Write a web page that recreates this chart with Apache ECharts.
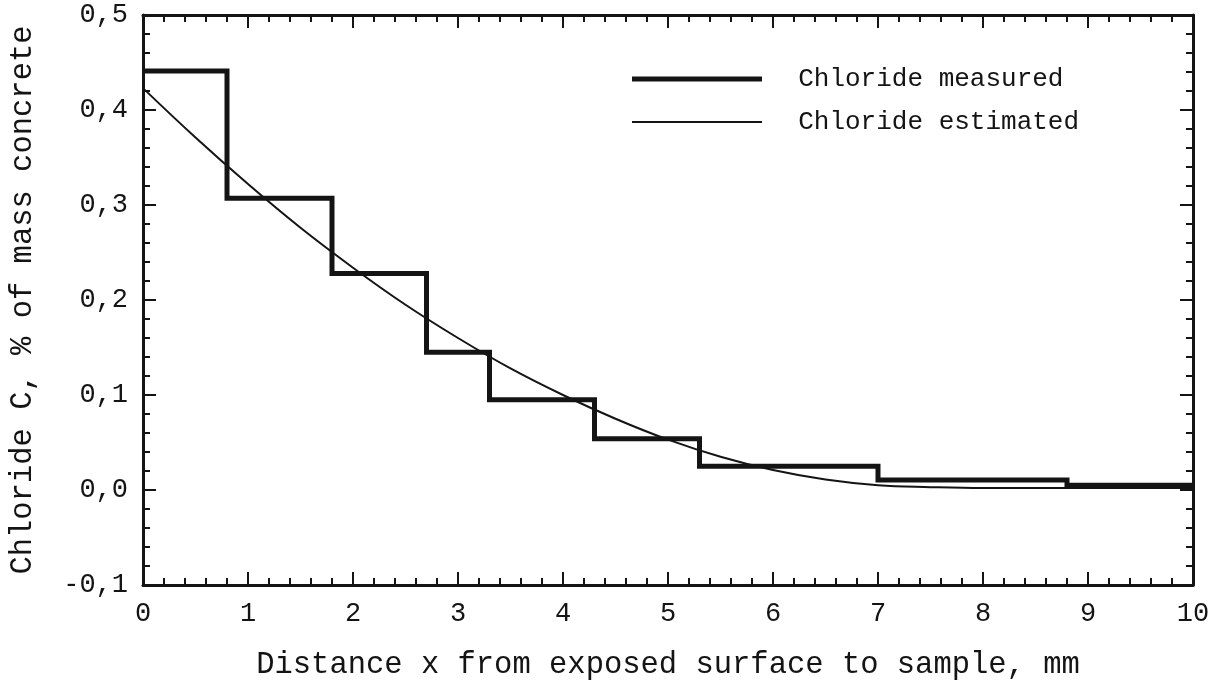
<!DOCTYPE html>
<html>
<head>
<meta charset="utf-8">
<script src="https://cdn.jsdelivr.net/npm/echarts@6/dist/echarts.min.js"></script>
<style>
html,body{margin:0;padding:0;background:#fff;}
#chart{width:1220px;height:680px;}
</style>
</head>
<body>
<div id="chart"></div>
<script>
// Measured chloride: step edges (mm) and value of each step (% of mass concrete)
const stepEdges = [0, 0.8, 1.8, 2.7, 3.3, 4.3, 5.3, 7.0, 8.8, 10];
const stepValues = [0.441, 0.307, 0.228, 0.145, 0.095, 0.054, 0.025, 0.0105, 0.005];

// Estimated chloride profile
const estX = [0, 0.5, 1.0, 1.5, 2.0, 2.5, 3.0, 3.5, 4.0, 4.5, 5.0, 5.5, 6.0, 6.5, 7.0, 7.5, 8.0, 8.5, 9.0, 9.5, 10];
const estY = [0.423, 0.371, 0.322, 0.276, 0.234, 0.195, 0.160, 0.128, 0.100, 0.075, 0.053, 0.035, 0.021, 0.011, 0.005, 0.003, 0.002, 0.002, 0.002, 0.002, 0.002];

const xTicks = [0, 1, 2, 3, 4, 5, 6, 7, 8, 9, 10];
const yTicks = [-0.1, 0.0, 0.1, 0.2, 0.3, 0.4, 0.5];

const seriesNames = ['Chloride measured', 'Chloride estimated'];
const xTitle = 'Distance x from exposed surface to sample, mm';
const yTitle = 'Chloride C, % of mass concrete';

const measuredData = [];
for (let i = 0; i < stepValues.length; i++) {
  measuredData.push([stepEdges[i], stepValues[i]]);
  measuredData.push([stepEdges[i + 1], stepValues[i]]);
}
const estimatedData = estX.map((x, i) => [x, estY[i]]);

const FONT = 'Liberation Mono';
const INK = '#141414';

const chart = echarts.init(document.getElementById('chart'), null, {renderer: 'canvas'});

function frameAxis(base) {
  return Object.assign({
    axisLine: {show: true, onZero: false, lineStyle: {color: INK, width: 3}},
    axisTick: {show: true, inside: true, length: 13, lineStyle: {color: INK, width: 2}},
    minorTick: {show: true, splitNumber: 5, length: 7, lineStyle: {color: INK, width: 2}},
    splitLine: {show: false},
    minorSplitLine: {show: false}
  }, base);
}

chart.setOption({
  animation: false,
  backgroundColor: '#fff',
  grid: {left: 143, right: 27, top: 15, bottom: 95, containLabel: false, outerBoundsMode: 'none'},
  legend: {
    orient: 'vertical',
    left: 627,
    top: 61,
    itemWidth: 130,
    itemHeight: 20,
    itemGap: 17,
    symbolKeepAspect: true,
    data: [
      {name: seriesNames[0], icon: 'path://M0,0H130V5H0Z', itemStyle: {color: INK}},
      {name: seriesNames[1], icon: 'path://M0,0H130V2H0Z', itemStyle: {color: INK}}
    ],
    formatter: name => '  ' + name,
    textStyle: {fontFamily: FONT, fontSize: 26, color: INK}
  },
  xAxis: [
    frameAxis({
      type: 'value', position: 'bottom', min: xTicks[0], max: xTicks[xTicks.length - 1], interval: 1,
      axisLabel: {show: true, fontFamily: FONT, fontSize: 27, color: INK, margin: 15},
      name: xTitle, nameLocation: 'middle', nameGap: 64,
      nameTextStyle: {fontFamily: FONT, fontSize: 30.5, color: INK}
    }),
    frameAxis({
      type: 'value', position: 'top', min: xTicks[0], max: xTicks[xTicks.length - 1], interval: 1,
      axisLabel: {show: false}
    })
  ],
  yAxis: [
    frameAxis({
      type: 'value', position: 'left', min: yTicks[0], max: yTicks[yTicks.length - 1], interval: 0.1,
      axisLabel: {show: true, fontFamily: FONT, fontSize: 27, color: INK, margin: 15,
        formatter: v => (Math.abs(v) < 1e-9 ? 0 : v).toFixed(1).replace('.', ',')},
      name: yTitle, nameLocation: 'middle', nameGap: 105, nameRotate: 90,
      nameTextStyle: {fontFamily: FONT, fontSize: 30.5, color: INK}
    }),
    frameAxis({
      type: 'value', position: 'right', min: yTicks[0], max: yTicks[yTicks.length - 1], interval: 0.1,
      axisLabel: {show: false}
    })
  ],
  series: [
    {
      name: seriesNames[0], type: 'line', xAxisIndex: 0, yAxisIndex: 0,
      data: measuredData, showSymbol: false, symbol: 'none',
      lineStyle: {color: INK, width: 5, join: 'miter'}, itemStyle: {color: INK}, z: 3
    },
    {
      name: seriesNames[1], type: 'line', xAxisIndex: 0, yAxisIndex: 0,
      data: estimatedData, smooth: 0.4, showSymbol: false, symbol: 'none',
      lineStyle: {color: INK, width: 2}, itemStyle: {color: INK}, z: 2
    }
  ]
});
</script>
</body>
</html>
